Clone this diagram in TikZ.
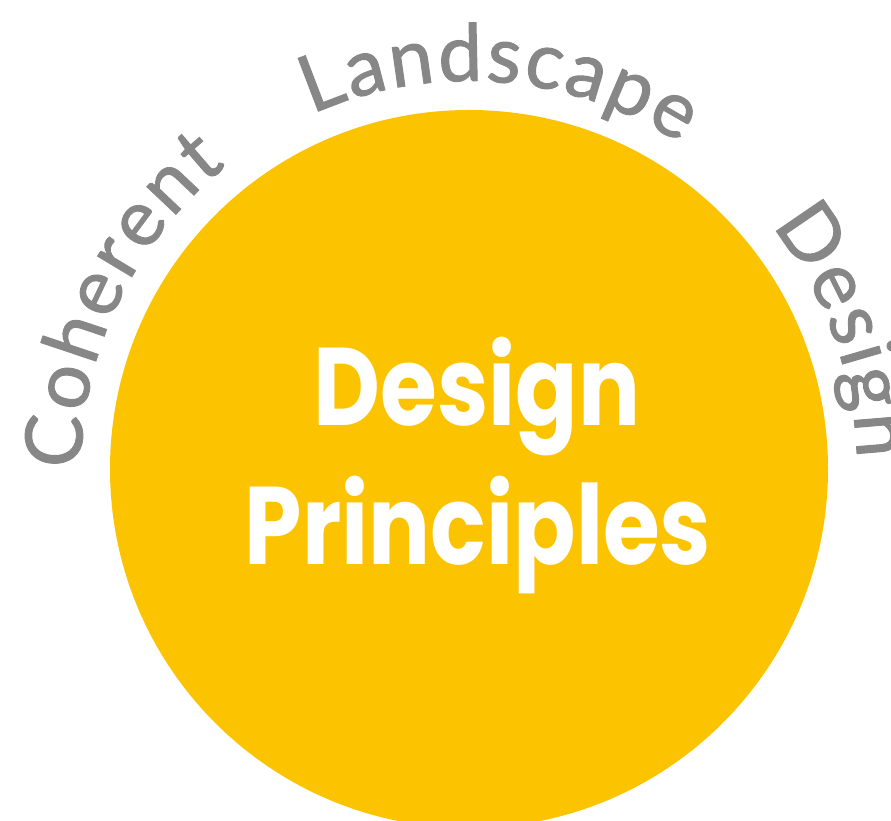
\documentclass[tikz,border=0pt]{standalone}
\usepackage{fontspec}
\setmainfont{Poppins}
\newfontfamily\arcfont{Lato}[FakeBold=1.2]
\usepackage{xcolor}
\usetikzlibrary{decorations.text}
\definecolor{discyellow}{HTML}{FCC400}
\definecolor{arcgray}{HTML}{878787}
\tikzset{
    disc/.style={circle, fill=discyellow, minimum size=718pt, inner sep=0pt},
    title/.style={text=white, font=\bfseries\fontsize{92}{92}\selectfont, anchor=base},
    arcword/.style={decorate, decoration={text along path, text align=fit to path,
        text color=arcgray, text/.expanded=#1}},
}

\begin{document}
\begin{tikzpicture}[x=1pt, y=1pt]
        \useasboundingbox (0,0) rectangle (891,821);
        \clip (0,0) rectangle (891,821);
        \node[disc] (C) at (469,352) {};
        \node[title] (D) at (477,395) {\scalebox{1}[1.2]{Design}};
        \node[title] (P) at (478,256) {\scalebox{1}[1.2]{Principles}};
        \arcfont\fontsize{79}{79}\selectfont
        \foreach \word/\a/\b in {Coherent/180/128.7, Landscape/113.9/57, Design/38.8/1.5}
            \path[arcword=\word] (C.center) ++(\a:388) arc[start angle=\a, end angle=\b, radius=388];
\end{tikzpicture}
\end{document}
